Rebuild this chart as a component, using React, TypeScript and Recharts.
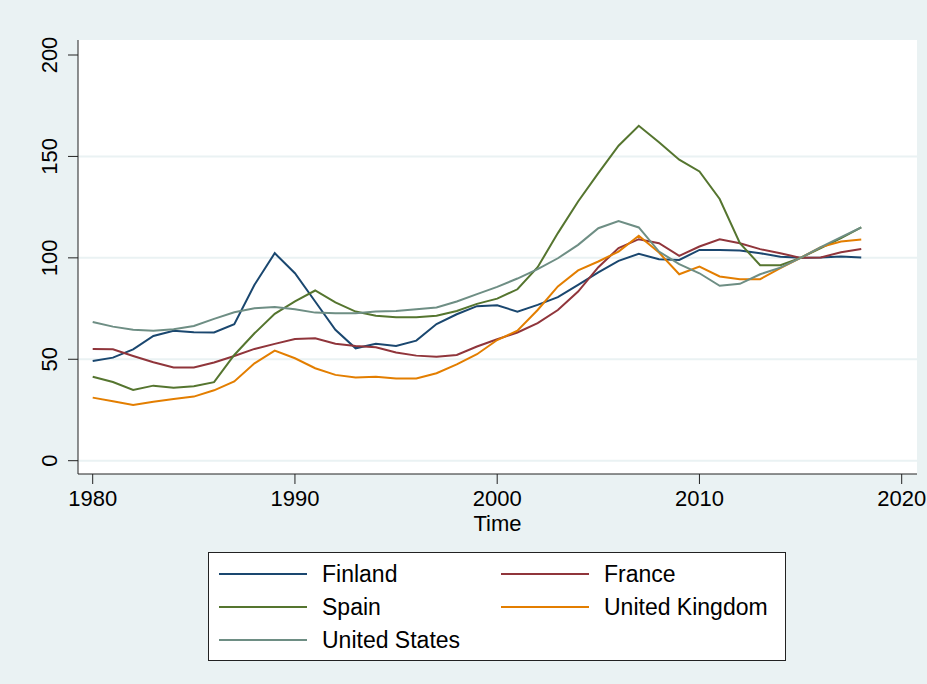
import React from "react";
import { LineChart, Line, XAxis, YAxis, CartesianGrid, Legend, Label } from "recharts";

const YEARS = [
  1980, 1981, 1982, 1983, 1984, 1985, 1986, 1987, 1988, 1989, 1990, 1991, 1992,
  1993, 1994, 1995, 1996, 1997, 1998, 1999, 2000, 2001, 2002, 2003, 2004, 2005,
  2006, 2007, 2008, 2009, 2010, 2011, 2012, 2013, 2014, 2015, 2016, 2017, 2018,
];

const FINLAND = [
  49.2, 50.8, 54.9, 61.5, 64.1, 63.3, 63.2, 67.3, 86.7, 102.3, 92.4, 78.5, 64.5, 55.4,
  57.6, 56.6, 59.2, 67.4, 72.2, 76.2, 76.6, 73.5, 76.8, 80.6, 86.7, 92.8, 98.5, 102.0,
  99.3, 99.0, 103.9, 103.9, 103.6, 102.3, 100.5, 100, 100.2, 100.7, 100.2,
];
const FRANCE = [
  55.1, 54.9, 51.6, 48.5, 45.9, 45.9, 48.4, 51.6, 55.1, 57.6, 60.0, 60.4, 57.7, 56.6,
  55.9, 53.3, 51.8, 51.2, 52.1, 56.3, 59.9, 63.2, 67.8, 74.3, 83.4, 95.4, 104.8, 109.2,
  107.2, 101.0, 105.6, 109.2, 107.2, 104.3, 102.3, 100, 100.2, 102.8, 104.4,
];
const SPAIN = [
  41.4, 38.8, 34.9, 37.0, 36.0, 36.7, 38.7, 52.1, 62.8, 72.4, 78.5, 83.9, 78.0, 73.5,
  71.5, 70.7, 70.7, 71.5, 73.8, 77.3, 79.9, 84.5, 95.4, 112.2, 127.8, 141.8, 155.3, 165.1,
  157.0, 148.4, 142.6, 129.0, 107.2, 96.4, 96.4, 100, 104.8, 109.7, 115.0,
];
const UK = [
  31.1, 29.3, 27.5, 29.1, 30.4, 31.6, 34.7, 39.1, 48.0, 54.3, 50.5, 45.6, 42.3, 41.0,
  41.4, 40.5, 40.5, 43.1, 47.5, 52.5, 59.5, 64.1, 74.3, 85.9, 93.8, 98.2, 103.1, 110.9,
  102.6, 91.9, 95.7, 90.8, 89.5, 89.5, 94.9, 100, 105.3, 108.1, 109.0,
];
const US = [
  68.4, 66.1, 64.5, 64.1, 64.8, 66.4, 69.9, 73.2, 75.2, 75.8, 74.7, 73.0, 72.7, 72.7,
  73.5, 73.8, 74.7, 75.5, 78.5, 82.1, 85.7, 89.8, 94.4, 99.8, 106.4, 114.6, 118.1, 115.0,
  103.1, 96.9, 92.4, 86.2, 87.2, 91.9, 95.2, 100, 105.3, 110.2, 115.0,
];

const X_TICKS = [1980, 1990, 2000, 2010, 2020];
const Y_TICKS = [0, 50, 100, 150, 200];
const GRID_VALUES = [0, 50, 100, 150];

const SERIES = [
  { key: "finland", name: "Finland", values: FINLAND, color: "#1a476f" },
  { key: "france", name: "France", values: FRANCE, color: "#90353b" },
  { key: "spain", name: "Spain", values: SPAIN, color: "#55752f" },
  { key: "uk", name: "United Kingdom", values: UK, color: "#e37e00" },
  { key: "us", name: "United States", values: US, color: "#6e8e84" },
];

const FONT = "'Liberation Sans', Arial, sans-serif";
const AXIS = "#222";

const data = YEARS.map((year, i) => {
  const row: Record<string, number> = { year };
  for (const s of SERIES) row[s.key] = s.values[i];
  return row;
});

function XTick({ x, y, payload }: any) {
  return (
    <text x={x} y={y + 20} textAnchor="middle" fontSize={22} fill="#000" fontFamily={FONT}>
      {payload.value}
    </text>
  );
}

function YTick({ x, y, payload }: any) {
  const bx = x - 9;
  return (
    <text
      x={bx}
      y={y}
      textAnchor="middle"
      fontSize={22}
      fill="#000"
      fontFamily={FONT}
      transform={`rotate(-90, ${bx}, ${y})`}
    >
      {payload.value}
    </text>
  );
}

function TimeLabel({ viewBox }: any) {
  return (
    <text
      x={viewBox.x + viewBox.width / 2}
      y={viewBox.y + 57}
      textAnchor="middle"
      fontSize={22}
      fill="#000"
      fontFamily={FONT}
    >
      Time
    </text>
  );
}

// two-column legend in a bordered white box, like Stata's default
function LegendBox({ payload }: any) {
  return (
    <div
      style={{
        position: "relative",
        width: 578,
        height: 109,
        boxSizing: "border-box",
        background: "#fff",
        border: "1px solid #222",
        fontFamily: FONT,
      }}
    >
      {(payload || []).map((entry: any, i: number) => {
        const col = i % 2;
        const row = Math.floor(i / 2);
        const left = col === 0 ? 10 : 292;
        const top = 21 + row * 32.8;
        return (
          <div key={entry.value} style={{ position: "absolute", left, top: top - 13, height: 26 }}>
            <div
              style={{
                position: "absolute",
                left: 0,
                top: 12,
                width: 88,
                height: 2,
                background: entry.color,
              }}
            />
            <span
              style={{
                position: "absolute",
                left: 103,
                top: 0,
                fontSize: 23,
                lineHeight: "26px",
                whiteSpace: "nowrap",
                color: "#000",
              }}
            >
              {entry.value}
            </span>
          </div>
        );
      })}
    </div>
  );
}

export default function App() {
  return (
    <div
      style={{
        position: "absolute",
        left: 0,
        top: 0,
        width: 927,
        height: 684,
        background: "#eaf2f3",
      }}
    >
      <LineChart
        width={927}
        height={684}
        data={data}
        margin={{ top: 40, right: 10, bottom: 180, left: 18 }}
        style={{ fontFamily: FONT }}
      >
        <CartesianGrid
          fill="#fff"
          vertical={false}
          horizontalValues={GRID_VALUES}
          stroke="#eaf2f3"
          strokeWidth={2}
        />
        <XAxis
          dataKey="year"
          type="number"
          domain={[1980, 2020]}
          ticks={X_TICKS}
          padding={{ left: 14.7, right: 15.3 }}
          height={30}
          tickSize={10}
          tick={<XTick />}
          stroke={AXIS}
          axisLine={{ stroke: AXIS }}
          tickLine={{ stroke: AXIS }}
        >
          <Label content={<TimeLabel />} />
        </XAxis>
        <YAxis
          type="number"
          domain={[0, 200]}
          ticks={Y_TICKS}
          padding={{ top: 15, bottom: 13.3 }}
          width={60}
          tickSize={10}
          tick={<YTick />}
          stroke={AXIS}
          axisLine={{ stroke: AXIS }}
          tickLine={{ stroke: AXIS }}
        />
        <Legend
          layout="horizontal"
          verticalAlign="middle"
          content={<LegendBox />}
          wrapperStyle={{ position: "absolute", left: 208, top: 552, width: 578, height: 109 }}
        />
        {SERIES.map((s) => (
          <Line
            key={s.key}
            type="linear"
            dataKey={s.key}
            name={s.name}
            stroke={s.color}
            strokeWidth={2}
            dot={false}
            activeDot={false}
            isAnimationActive={false}
          />
        ))}
      </LineChart>
    </div>
  );
}
